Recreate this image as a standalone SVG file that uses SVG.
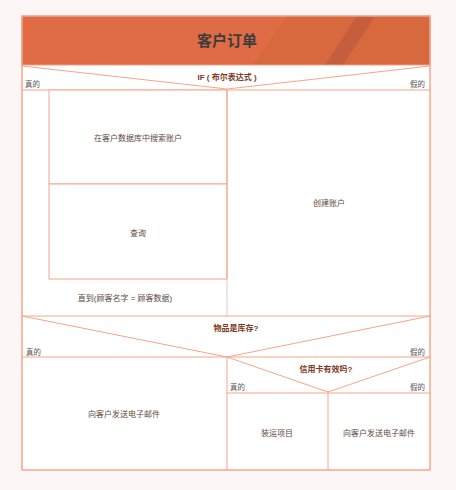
<svg xmlns="http://www.w3.org/2000/svg" width="456" height="490" viewBox="0 0 456 490">
<style>
.ln{stroke:#F5A689;stroke-width:1;fill:none}
.bx{stroke:#F5A689;stroke-width:1;fill:#FFFFFF}
.t{font-family:"Liberation Sans","Noto Sans CJK SC",sans-serif;font-size:8px;fill:#5C4A40;text-anchor:middle;dominant-baseline:central}
.tb{font-family:"Liberation Sans","Noto Sans CJK SC",sans-serif;font-size:8px;font-weight:bold;fill:#7A3A24;text-anchor:middle;dominant-baseline:central}
.lab{font-family:"Liberation Sans","Noto Sans CJK SC",sans-serif;font-size:7.5px;fill:#555555;dominant-baseline:central}
</style>
<rect width="456" height="490" fill="#FCF7F6"/>
<rect x="22" y="16" width="408" height="454" fill="#FFFFFF" stroke="#F5A689"/>
<g id="title">
<rect x="22" y="16" width="408" height="49" fill="#E06C46"/>
<polygon points="287,16 430,16 430,65 253,65" fill="#D8693F"/>
<polygon points="357,16 375,16 343,65 325,65" fill="#C45E3C"/>
<rect x="22" y="16" width="408" height="49" fill="none" stroke="#E8A08A" stroke-width="1"/>
<text x="227" y="40" font-family="'Liberation Sans','Noto Sans CJK SC',sans-serif" font-size="15" font-weight="bold" fill="#3C3C3C" text-anchor="middle" dominant-baseline="central">客户订单</text>
</g>
<g id="if-decision">
<line class="ln" x1="22" y1="66" x2="227" y2="89"/>
<line class="ln" x1="430" y1="66" x2="227" y2="89"/>
<line class="ln" x1="22" y1="90" x2="430" y2="90"/>
<text class="tb" x="227" y="77">IF ( 布尔表达式 )</text>
<text class="lab" x="25" y="84">真的</text>
<text class="lab" x="410" y="84">假的</text>
</g>
<g id="loop">
<rect class="bx" x="49" y="90" width="178" height="94"/>
<text class="t" x="138" y="138">在客户数据库中搜索账户</text>
<rect class="bx" x="49" y="184" width="178" height="95"/>
<text class="t" x="138" y="233">查询</text>
<line x1="227" y1="279" x2="227" y2="316" stroke="#DCCBBE" stroke-width="1"/>
<text class="t" x="125" y="298">直到(顾客名字 = 顾客数据)</text>
</g>
<g id="create-account">
<line class="ln" x1="227" y1="90" x2="227" y2="279"/>
<text class="t" x="329" y="203">创建账户</text>
</g>
<g id="stock-decision">
<line class="ln" x1="22" y1="316" x2="430" y2="316"/>
<line class="ln" x1="22" y1="316" x2="227" y2="357"/>
<line class="ln" x1="430" y1="316" x2="227" y2="357"/>
<line class="ln" x1="22" y1="357" x2="430" y2="357"/>
<text class="tb" x="236" y="328">物品是库存?</text>
<text class="lab" x="26" y="352">真的</text>
<text class="lab" x="410" y="352">假的</text>
</g>
<g id="email-left">
<line class="ln" x1="227" y1="357" x2="227" y2="470"/>
<text class="t" x="124" y="414">向客户发送电子邮件</text>
</g>
<g id="credit-decision">
<line class="ln" x1="227" y1="357" x2="328" y2="392"/>
<line class="ln" x1="430" y1="357" x2="328" y2="392"/>
<line class="ln" x1="227" y1="393" x2="430" y2="393"/>
<text class="tb" x="326" y="369">信用卡有效吗?</text>
<text class="lab" x="230" y="387">真的</text>
<text class="lab" x="410" y="387">假的</text>
</g>
<g id="ship-item">
<line class="ln" x1="328" y1="393" x2="328" y2="470"/>
<text class="t" x="277" y="433">装运项目</text>
</g>
<g id="email-right">
<text class="t" x="379" y="433">向客户发送电子邮件</text>
</g>
<rect x="22" y="16" width="408" height="454" class="ln"/>
</svg>
